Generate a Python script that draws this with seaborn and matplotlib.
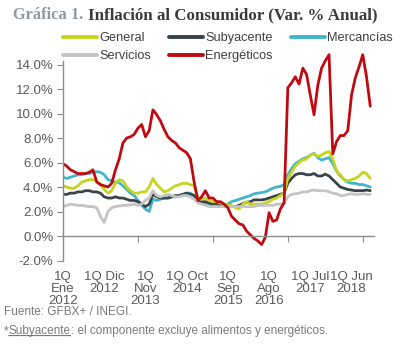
import numpy as np
import pandas as pd
import seaborn as sns
import matplotlib.pyplot as plt

# Monthly readings, Jan 2012 (index 0) .. Nov 2018 (index 82), annual % change
general = [4.1, 4.0, 3.9, 3.9, 4.1, 4.4, 4.5, 4.6, 4.6, 4.5, 4.2, 3.8,
           3.5, 3.7, 4.3, 4.6, 4.5, 4.0, 3.7, 3.5, 3.5, 3.6, 3.6, 4.0,
           4.7, 4.2, 3.9, 3.6, 3.7, 3.9, 4.1, 4.2, 4.3, 4.3, 4.2, 4.1,
           3.1, 3.0, 3.1, 2.9, 2.8, 2.8, 2.7, 2.6, 2.5, 2.5, 2.3, 2.2,
           2.6, 2.8, 2.6, 2.6, 2.6, 2.6, 2.7, 2.8, 3.0, 3.1, 3.3, 3.5,
           4.7, 5.2, 5.7, 6.0, 6.2, 6.3, 6.6, 6.7, 6.5, 6.6, 6.8, 6.9,
           6.3, 5.3, 5.0, 4.6, 4.5, 4.6, 4.7, 4.9, 5.2, 5.1, 4.7]
subyacente = [3.4, 3.4, 3.5, 3.5, 3.6, 3.6, 3.7, 3.7, 3.6, 3.6, 3.5, 3.2,
              3.1, 3.1, 3.2, 3.1, 3.1, 3.0, 2.9, 2.9, 2.8, 2.6, 2.4, 2.6,
              3.4, 3.2, 3.1, 3.1, 3.1, 3.2, 3.3, 3.3, 3.4, 3.5, 3.4, 3.3,
              2.8, 2.8, 2.8, 2.7, 2.6, 2.6, 2.5, 2.5, 2.5, 2.4, 2.4, 2.5,
              2.65, 2.75, 2.8, 2.95, 2.95, 2.95, 3.0, 3.1, 3.2, 3.3, 3.4, 3.5,
              4.3, 4.7, 5.0, 5.1, 5.1, 5.0, 5.0, 5.1, 4.9, 4.9, 5.05, 4.9,
              4.6, 4.3, 4.0, 3.9, 3.8, 3.75, 3.7, 3.7, 3.7, 3.75, 3.7]
mercancias = [4.8, 4.7, 4.8, 4.9, 5.0, 5.0, 5.1, 5.1, 5.2, 5.25, 5.2, 5.0,
              4.6, 4.5, 4.4, 4.35, 4.1, 3.8, 3.5, 3.3, 2.9, 2.5, 2.2, 2.0,
              3.0, 2.9, 3.0, 3.1, 3.1, 3.2, 3.2, 3.3, 3.4, 3.5, 3.5, 3.3,
              2.9, 2.7, 2.6, 2.5, 2.5, 2.5, 2.5, 2.5, 2.6, 2.8, 2.9, 3.0,
              3.1, 3.2, 3.3, 3.45, 3.5, 3.55, 3.6, 3.75, 3.9, 4.0, 4.05, 4.2,
              5.0, 5.5, 5.9, 6.1, 6.3, 6.4, 6.6, 6.75, 6.4, 6.2, 6.3, 6.4,
              5.9, 5.3, 4.9, 4.6, 4.4, 4.3, 4.3, 4.2, 4.2, 4.1, 4.0]
servicios = [2.4, 2.5, 2.6, 2.55, 2.5, 2.5, 2.45, 2.4, 2.4, 2.3, 1.6, 1.1,
             2.0, 2.3, 2.4, 2.45, 2.5, 2.5, 2.55, 2.6, 2.5, 2.6, 2.9, 3.1,
             3.7, 3.3, 3.2, 3.3, 3.4, 3.3, 3.2, 3.2, 3.3, 3.3, 3.2, 3.0,
             2.7, 2.6, 2.5, 2.4, 2.4, 2.4, 2.4, 2.4, 2.4, 2.4, 2.4, 2.4,
             2.4, 2.4, 2.4, 2.4, 2.5, 2.5, 2.5, 2.5, 2.5, 2.6, 2.6, 2.7,
             3.2, 3.4, 3.45, 3.5, 3.6, 3.6, 3.7, 3.75, 3.7, 3.7, 3.7, 3.6,
             3.5, 3.45, 3.3, 3.3, 3.4, 3.45, 3.4, 3.4, 3.45, 3.4, 3.4]
energeticos = [5.9, 5.7, 5.4, 5.25, 5.1, 5.1, 5.1, 5.2, 5.4, 4.4, 4.2, 4.1,
               4.0, 4.3, 5.4, 6.3, 7.6, 8.0, 8.1, 8.3, 8.8, 9.1, 8.1, 8.6,
               10.3, 9.9, 9.4, 8.7, 8.1, 7.8, 7.6, 7.2, 7.0, 6.8, 6.3, 4.4,
               2.9, 3.2, 3.7, 3.1, 3.1, 2.8, 2.8, 2.6, 2.3, 1.6, 1.3, 1.0,
               0.9, 0.4, 0.1, -0.2, -0.4, -0.7, -0.1, 1.9, 1.2, 1.3, 2.2, 2.7,
               12.1, 12.5, 13.0, 12.4, 13.7, 13.2, 11.5, 9.9, 12.3, 13.7, 14.3, 14.8,
               6.7, 7.7, 8.2, 8.2, 8.6, 11.5, 12.9, 13.8, 14.8, 13.0, 10.6]

label_months = [0, 11, 22, 33, 44, 55, 66, 77]
tick_labels = ["1Q\nEne\n2012", "1Q Dic\n2012", "1Q\nNov\n2013", "1Q Oct\n2014",
               "1Q\nSep\n2015", "1Q\nAgo\n2016", "1Q Jul\n2017", "1Q Jun\n2018"]
y_ticks = [-2, 0, 2, 4, 6, 8, 10, 12, 14]

colors = {"General": "#c5d41c", "Subyacente": "#3b434b", "Mercancías": "#41b6cb",
          "Servicios": "#c4c4c4", "Energéticos": "#c00a12"}

df = pd.DataFrame({"mes": np.arange(len(general)), "General": general,
                   "Subyacente": subyacente, "Mercancías": mercancias,
                   "Servicios": servicios, "Energéticos": energeticos})
df = df.melt(id_vars="mes", var_name="serie", value_name="valor")

sns.set_style("white")
plt.rcParams["font.family"] = ["Liberation Sans", "DejaVu Sans"]

fig = plt.figure(figsize=(4, 3.5), dpi=100)
ax = fig.add_axes([0.1575, 0.2557, 0.7775, 0.595])

draw_order = ["Mercancías", "Subyacente", "General", "Servicios", "Energéticos"]
sns.lineplot(data=df, x="mes", y="valor", hue="serie", hue_order=draw_order,
             palette=colors, linewidth=2, errorbar=None, legend=False, ax=ax)
lines = dict(zip(draw_order, ax.lines))

ax.set_xlim(0, 83)
ax.set_ylim(-2, 15)
ax.set_xlabel("")
ax.set_ylabel("")
for s in ["top", "right"]:
    ax.spines[s].set_visible(False)
ax.spines["bottom"].set_position(("data", 0))
ax.spines["left"].set_bounds(-2, 14.3)
for s in ["bottom", "left"]:
    ax.spines[s].set_color("#8c8c8c")
    ax.spines[s].set_linewidth(1)

ax.set_yticks(y_ticks)
ax.set_yticklabels([f"{v:.1f}%" for v in y_ticks])
ax.tick_params(axis="y", length=4, color="#8c8c8c", labelsize=9.5,
               labelcolor="#595959", pad=3, left=True)

ax.xaxis.remove_overlapping_locs = False
ax.set_xticks([0, 20, 40, 60, 80])
ax.set_xticklabels([])
ax.tick_params(axis="x", which="major", length=4, color="#8c8c8c", bottom=True)
ax.set_xticks(label_months, minor=True)
ax.set_xticklabels(tick_labels, minor=True)
ax.tick_params(axis="x", which="minor", length=0, pad=25, labelsize=9.5,
               labelcolor="#595959")
for lab in ax.get_xticklabels(minor=True):
    lab.set_linespacing(1.02)

# legend: two rows in the order of the original
order = ["General", "Servicios", "Subyacente", "Energéticos", "Mercancías"]
leg = fig.legend([lines[k] for k in order], order, loc="upper left",
                 bbox_to_anchor=(63 / 400, 1 - 32 / 350), ncol=3, frameon=False,
                 handlelength=2.65, handletextpad=0.2, columnspacing=1.4,
                 labelspacing=0.5, borderpad=0, borderaxespad=0, fontsize=9.2,
                 labelcolor="#404040")
for h in leg.legend_handles:
    h.set_linewidth(2.8)

# title
t1 = fig.text(13 / 400, 1 - 15 / 350, "Gráfica 1.", family="Liberation Serif",
              weight="bold", fontsize=11.8, color="#8f969c", va="center", ha="left")
ax.annotate("Inflación al Consumidor (Var. % Anual)", xy=(1, 0), xycoords=t1,
            xytext=(3.5, 0), textcoords="offset points", va="bottom", ha="left",
            family="Liberation Serif", weight="bold", fontsize=12.2,
            color="#3a3a3a", annotation_clip=False)

# footnotes
foot = dict(fontsize=8.5, color="#7a7a7a")
fig.text(4 / 400, 1 - 312 / 350, "Fuente: GFBX+ / INEGI.", va="center", **foot)
f_a = fig.text(4 / 400, 1 - 331 / 350, "*", va="center", **foot)
f_b = ax.annotate("Subyacente", xy=(1, 0), xycoords=f_a, va="bottom", ha="left",
                  annotation_clip=False, **foot)
ax.annotate(": el componente excluye alimentos y energéticos.", xy=(1, 0),
            xycoords=f_b, va="bottom", ha="left", annotation_clip=False, **foot)
ax.annotate("", xy=(0, 0.12), xycoords=f_b, xytext=(1, 0.12), textcoords=f_b,
            arrowprops=dict(arrowstyle="-", color="#7a7a7a", lw=0.8,
                            shrinkA=0, shrinkB=0), annotation_clip=False)

fig.savefig("out.png", dpi=100)
